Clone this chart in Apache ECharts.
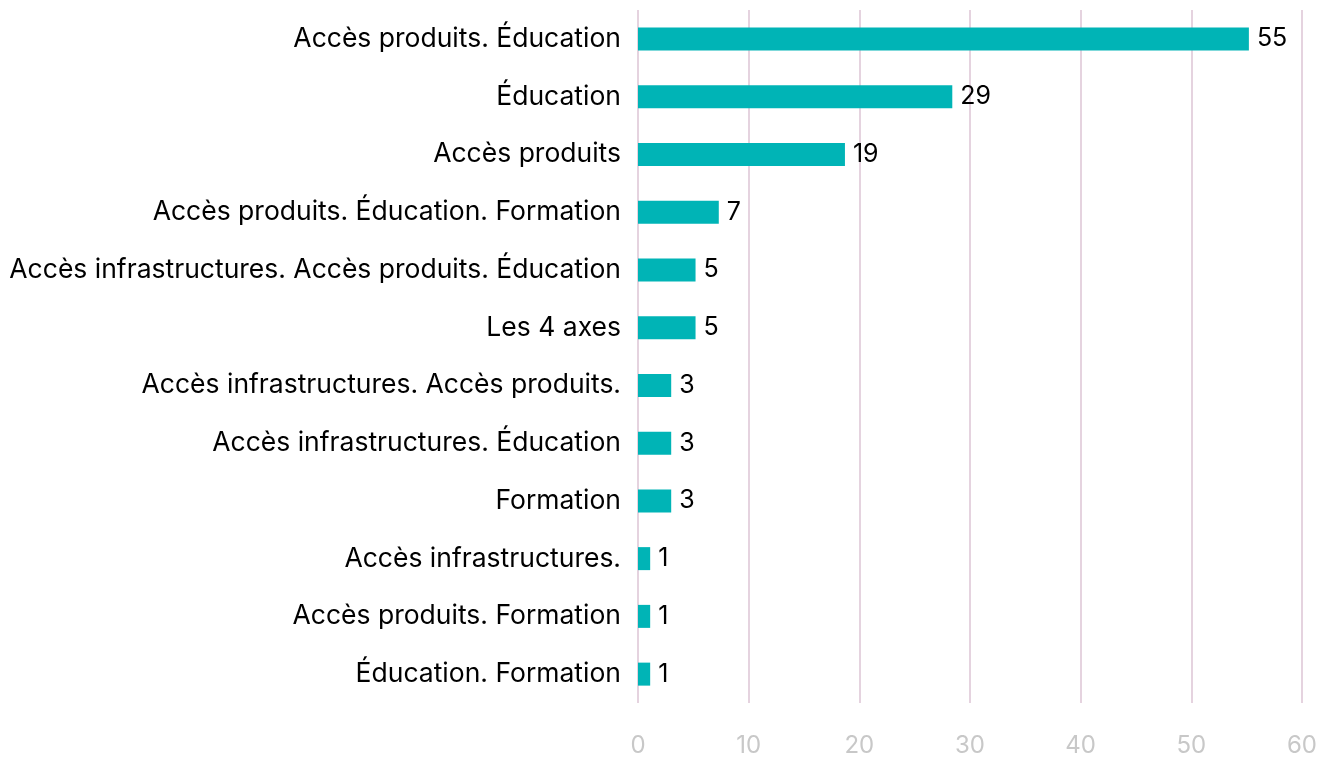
<!DOCTYPE html>
<html>
<head>
<meta charset="utf-8">
<script src="https://cdn.jsdelivr.net/npm/echarts@6/dist/echarts.min.js"></script>
<style>
    html, body { margin: 0; padding: 0; background: #fff; }
    #chart { width: 1324px; height: 758px; }
</style>
</head>
<body>
<div id="chart"></div>
<script>
var categories = [
    'Accès produits. Éducation',
    'Éducation',
    'Accès produits',
    'Accès produits. Éducation. Formation',
    'Accès infrastructures. Accès produits. Éducation',
    'Les 4 axes',
    'Accès infrastructures. Accès produits.',
    'Accès infrastructures. Éducation',
    'Formation',
    'Accès infrastructures.',
    'Accès produits. Formation',
    'Éducation. Formation'
];
// bar lengths as measured on the picture, labels as printed
var values = [55.2, 28.4, 18.7, 7.3, 5.2, 5.2, 3.0, 3.0, 3.0, 1.1, 1.1, 1.1];
var labels = [55, 29, 19, 7, 5, 5, 3, 3, 3, 1, 1, 1];
var ticks = [0, 10, 20, 30, 40, 50, 60];

var chart = echarts.init(document.getElementById('chart'));
var option = {
    animation: false,
    grid: {
        left: 638,
        right: 22,
        top: 10,
        bottom: 53,
        containLabel: false
    },
    xAxis: {
        type: 'value',
        min: ticks[0],
        max: ticks[ticks.length - 1],
        interval: 10,
        axisLine: { show: false },
        axisTick: { show: false },
        axisLabel: {
            color: '#c8c8c8',
            fontSize: 24,
            fontFamily: 'Inter',
            margin: 31
        },
        splitLine: {
            show: true,
            lineStyle: { color: '#dcc4d4', width: 1.5 }
        }
    },
    yAxis: {
        type: 'category',
        inverse: true,
        data: categories,
        axisLine: { show: false },
        axisTick: { show: false },
        axisLabel: {
            color: '#000',
            fontSize: 26.5,
            fontFamily: 'Inter',
            margin: 17
        }
    },
    series: [{
        type: 'bar',
        data: values,
        barWidth: 23,
        itemStyle: { color: '#00b4b6' },
        label: {
            show: true,
            position: 'right',
            distance: 8,
            color: '#000',
            fontSize: 25,
            fontFamily: 'Inter',
            formatter: function (p) {
                return labels[p.dataIndex];
            }
        }
    }]
};
chart.setOption(option);
</script>
</body>
</html>
